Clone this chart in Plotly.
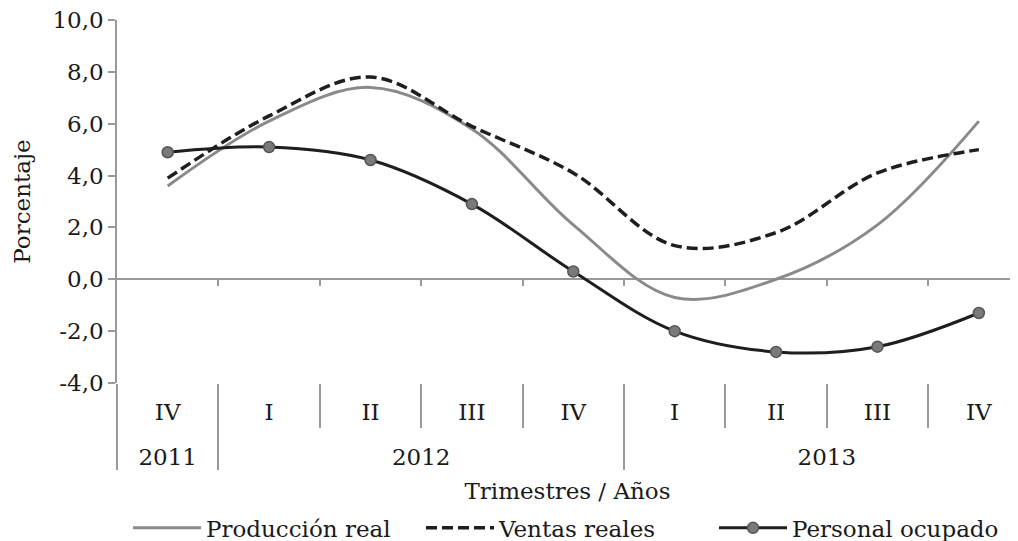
import plotly.graph_objs as go

# Data
anios = ['2011', '2012', '2012', '2012', '2012', '2013', '2013', '2013', '2013']
# zero-width space on the 2011 label keeps plotly from ordering IV first inside each year;
# the blank second line pushes the year row further down, like the reference table
trimestres = ['IV\u200b', 'I', 'II', 'III', 'IV', 'I', 'II', 'III', 'IV']
trimestres = [t + '<br>\u00a0' for t in trimestres]
produccion_real = [3.6, 6.1, 7.4, 5.8, 2.1, -0.7, 0.0, 2.1, 6.1]
ventas_reales = [3.9, 6.3, 7.8, 5.9, 4.1, 1.3, 1.8, 4.1, 5.0]
personal_ocupado = [4.9, 5.1, 4.6, 2.9, 0.3, -2.0, -2.8, -2.6, -1.3]
y_ticks = [-4, -2, 0, 2, 4, 6, 8, 10]
y_tick_labels = ['-4,0', '-2,0', '0,0', '2,0', '4,0', '6,0', '8,0', '10,0']
limites = [0.5, 1.5, 2.5, 3.5, 4.5, 5.5, 6.5, 7.5]

fuente = 'DejaVu Serif'
gris = '#999999'
tam = 23

fig = go.Figure()
fig.add_trace(go.Scatter(x=[anios, trimestres], y=produccion_real, mode='lines',
                         name='Producción real',
                         line=dict(color='#8a8a8a', width=3, shape='spline')))
fig.add_trace(go.Scatter(x=[anios, trimestres], y=ventas_reales, mode='lines',
                         name='Ventas reales',
                         line=dict(color='#1e1e1e', width=3.5, dash='11px,5px', shape='spline')))
fig.add_trace(go.Scatter(x=[anios, trimestres], y=personal_ocupado, mode='lines+markers',
                         name='Personal ocupado',
                         line=dict(color='#1e1e1e', width=3, shape='spline'),
                         marker=dict(size=11, color='#7a7a7a', line=dict(color='#555555', width=1.5))))
# empty helper so the zero-line tick axis gets drawn
fig.add_trace(go.Scatter(x=limites, y=[None] * len(limites), xaxis='x2', showlegend=False,
                         hoverinfo='skip', mode='lines'))

# page body adds 8px, so margins are trimmed by that
fig.update_layout(
    width=1018, height=541,
    margin=dict(l=109, r=8, t=12, b=166),
    font=dict(family=fuente, size=tam, color='#1a1a1a'),
    plot_bgcolor='white', paper_bgcolor='white',
    showlegend=True,
    legend=dict(orientation='h', x=0.5, xanchor='center', yref='container', y=0.039,
                yanchor='middle', font=dict(size=tam), itemwidth=68, entrywidth=210,
                bgcolor='rgba(0,0,0,0)'),
    xaxis=dict(
        type='multicategory', range=[-0.5, 8.386], automargin=False,
        showline=False, showgrid=False, zeroline=False,
        ticks='outside', ticklen=44, tickcolor=gris, tickwidth=1.5,
        tickson='boundaries', ticklabelstandoff=13,
        showdividers=True, dividercolor=gris, dividerwidth=1.5,
        tickfont=dict(size=tam),
        title=dict(text='Trimestres / Años', font=dict(size=tam), standoff=13),
    ),
    # ticks over the zero line
    xaxis2=dict(
        overlaying='x', anchor='free', position=4 / 14, type='linear',
        range=[-0.5, 8.386], tickmode='array', tickvals=limites,
        ticks='outside', ticklen=6, tickcolor=gris, tickwidth=1.5,
        showticklabels=False, showline=False, showgrid=False, zeroline=False,
    ),
    yaxis=dict(
        range=[-4, 10], tickmode='array', tickvals=y_ticks, ticktext=y_tick_labels,
        automargin=False, ticklabeloverflow='allow',
        showline=True, linecolor=gris, linewidth=1.5,
        ticks='outside', ticklen=7, tickcolor=gris, tickwidth=1.5,
        showgrid=False, zeroline=True, zerolinecolor=gris, zerolinewidth=1.5,
        tickfont=dict(size=tam),
        title=dict(text='Porcentaje', font=dict(size=tam), standoff=15),
    ),
)

fig.write_html("out.html")
